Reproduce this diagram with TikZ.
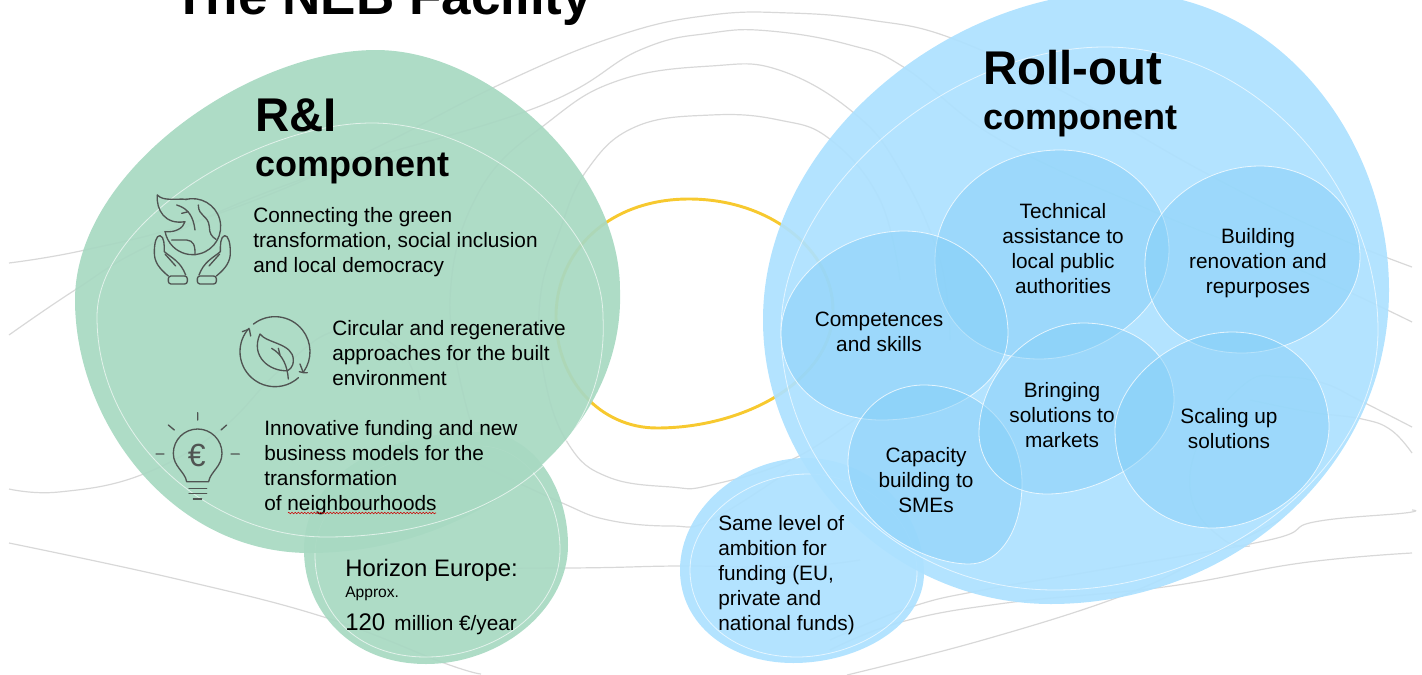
\documentclass[tikz,border=0pt]{standalone}
\usepackage{fontspec}
\setmainfont{Liberation Sans}
\usetikzlibrary{decorations.pathmorphing}
\definecolor{greenblob}{RGB}{168,217,194}
\definecolor{blueblob}{RGB}{173,225,255}
\definecolor{bubbleblue}{RGB}{131,206,247}
\definecolor{contourgrey}{RGB}{216,216,216}
\definecolor{ringyellow}{RGB}{247,201,47}
\definecolor{icongrey}{RGB}{80,84,82}
\begin{document}
\begin{tikzpicture}[
        x=0.75pt, y=-0.75pt,
        contour/.style={draw=contourgrey, line width=0.9pt},
        gblob/.style={fill=greenblob, fill opacity=0.93},
        bblob/.style={fill=blueblob, fill opacity=0.93},
        bubble/.style={fill=bubbleblue, fill opacity=0.48, draw=white, draw opacity=0.75, line width=0.6pt},
        rimline/.style={draw=white, draw opacity=0.65, line width=0.6pt},
        iconline/.style={draw=icongrey, line width=1pt, line cap=round, line join=round},
        body/.style={font=\fontsize{15.6}{18.75}\selectfont, inner sep=0pt, align=left, anchor=west},
        midtext/.style={font=\fontsize{15.6}{18.75}\selectfont, inner sep=0pt, align=center},
        bighead/.style={font=\fontsize{35.5}{40}\selectfont\bfseries, inner sep=0pt, anchor=base west},
        subhead/.style={font=\fontsize{27}{32}\selectfont\bfseries, inner sep=0pt, anchor=base west}
    ]
    \clip (0,0) rectangle (1422,675);
    \draw[contour] plot[smooth, tension=.7] coordinates {(9,263) (85,250) (200,220) (350,160) (503,83) (620,35) (711,15) (790,13) (870,20) (951,38) (1060,90) (1200,170) (1320,230) (1412,267)};
    \draw[contour] plot[smooth, tension=.7] coordinates {(9,335) (75,290) (150,245) (300,180) (535,108) (640,50) (711,33) (770,31) (850,45) (905,68) (1000,140) (1150,210) (1300,270) (1412,322)};
    \draw[contour] plot[smooth, tension=.7] coordinates {(470,420) (450,300) (480,190) (551,120) (620,80) (711,66) (779,70) (854,113) (900,170) (940,260) (950,340)};
    \draw[contour] plot[smooth, tension=.7] coordinates {(880,400) (797,457) (711,485) (671,487) (608,477) (569,445) (545,380) (540,300) (560,230) (587,170) (635,127) (711,115) (779,120) (831,140) (880,200) (900,280)};
    \draw[contour] plot[smooth, tension=.7] coordinates {(9,489) (59,492) (141,475) (220,430) (280,370) (340,330) (400,350) (420,400)};
    \draw[contour] plot[smooth, tension=.7] coordinates {(9,543) (181,580) (327,618) (444,663) (481,674)};
    \draw[contour] plot[smooth, tension=.7] coordinates {(470,460) (560,502) (608,520) (671,526) (711,520) (790,470)};
    \draw[contour] plot[smooth, tension=.7] coordinates {(345,568) (567,568) (680,566) (790,567) (860,560)};
    \draw[contour] plot[smooth, tension=.7] coordinates {(830,650) (901,622) (1006,603) (1164,587) (1301,563) (1412,553)};
    \draw[contour] plot[smooth, tension=.7] coordinates {(830,640) (911,607) (983,590) (1100,570) (1269,540) (1314,522) (1405,513) (1412,510)};
    \draw[contour] plot[smooth, tension=.7] coordinates {(847,675) (983,640) (1119,597) (1200,560) (1280,520)};
    \draw[contour] plot[smooth, tension=.7] coordinates {(1412,427) (1359,400) (1323,383) (1282,377) (1246,383) (1200,440) (1192,500) (1224,540) (1250,546)};
    \draw[contour] plot[smooth, tension=.7] coordinates {(1412,453) (1391,430) (1362,419) (1310,412) (1250,400)};
    \draw[draw=ringyellow, line width=2.2pt] (689,199) .. controls (770,199) and (833,250) .. (833,310) .. controls (833,380) and (745,428) .. (657,428) .. controls (600,428) and (556,380) .. (556,317) .. controls (556,250) and (610,199) .. (689,199) -- cycle;
    \fill[gblob] (480,432) .. controls (535,432) and (568,490) .. (568,545) .. controls (568,610) and (500,664) .. (426,664) .. controls (350,664) and (304,610) .. (304,550) .. controls (304,470) and (390,432) .. (480,432) -- cycle;
    \draw[rimline] (480,446) .. controls (525,446) and (560,495) .. (560,550) .. controls (560,610) and (495,657) .. (426,657) .. controls (355,657) and (315,610) .. (315,555) .. controls (315,490) and (395,446) .. (480,446) -- cycle;
    \fill[gblob] (376,50) .. controls (490,50) and (620,170) .. (620,290) .. controls (625,440) and (470,553) .. (310,553) .. controls (170,553) and (75,420) .. (75,300) .. controls (75,170) and (250,50) .. (376,50) -- cycle;
    \draw[rimline] (372,123) .. controls (480,123) and (603,220) .. (603,317) .. controls (610,460) and (480,537) .. (326,537) .. controls (210,537) and (97,440) .. (97,317) .. controls (97,220) and (260,123) .. (372,123) -- cycle;
    \fill[bblob] (806,458) .. controls (870,458) and (924,510) .. (924,573) .. controls (924,625) and (860,663) .. (793,663) .. controls (730,663) and (680,625) .. (680,570) .. controls (680,510) and (740,458) .. (806,458) -- cycle;
    \draw[rimline] (808,474) .. controls (865,474) and (917,520) .. (917,573) .. controls (917,620) and (855,657) .. (797,657) .. controls (735,657) and (690,620) .. (690,570) .. controls (690,520) and (745,474) .. (808,474) -- cycle;
    \fill[bblob] (1119,-8) .. controls (1280,-8) and (1389,140) .. (1389,290) .. controls (1389,470) and (1230,604) .. (1051,604) .. controls (890,604) and (763,470) .. (763,320) .. controls (763,140) and (950,-8) .. (1119,-8) -- cycle;
    \draw[rimline] (1105,47) .. controls (1260,47) and (1378,190) .. (1378,330) .. controls (1378,470) and (1220,590) .. (1055,590) .. controls (900,590) and (781,470) .. (781,330) .. controls (781,190) and (950,47) .. (1105,47) -- cycle;
    \fill[bubble,draw] (1060,150) .. controls (1120,150) and (1169,195) .. (1169,250) .. controls (1169,310) and (1100,359) .. (1040,359) .. controls (975,359) and (935,320) .. (935,260) .. controls (935,200) and (990,150) .. (1060,150) -- cycle;
    \fill[bubble,draw] (1260,166) .. controls (1315,166) and (1360,205) .. (1360,257) .. controls (1360,310) and (1300,353) .. (1242,353) .. controls (1185,353) and (1145,320) .. (1145,263) .. controls (1145,210) and (1200,166) .. (1260,166) -- cycle;
    \fill[bubble,draw] (904,231) .. controls (965,231) and (1008,280) .. (1008,333) .. controls (1008,385) and (950,420) .. (881,420) .. controls (825,420) and (781,385) .. (781,333) .. controls (781,280) and (840,231) .. (904,231) -- cycle;
    \fill[bubble,draw] (924,385) .. controls (980,385) and (1022,430) .. (1022,483) .. controls (1022,530) and (1000,564) .. (969,564) .. controls (925,564) and (848,525) .. (848,463) .. controls (848,420) and (880,385) .. (924,385) -- cycle;
    \fill[bubble,draw] (1083,323) .. controls (1135,323) and (1174,355) .. (1174,400) .. controls (1174,450) and (1105,494) .. (1047,494) .. controls (1005,494) and (979,465) .. (979,433) .. controls (979,375) and (1030,323) .. (1083,323) -- cycle;
    \fill[bubble,draw] (1232,332) .. controls (1290,332) and (1329,375) .. (1329,427) .. controls (1329,480) and (1270,528) .. (1212,528) .. controls (1160,528) and (1115,490) .. (1115,430) .. controls (1115,385) and (1170,332) .. (1232,332) -- cycle;

    \node[bighead, font=\fontsize{39.8}{44}\selectfont\bfseries] (facility) at (173,14) {The NEB Facility};
    \node[bighead] (rihead) at (255,131) {R\&I};
    \node[subhead] (risub) at (255,176) {component};
    \node[bighead] (rollhead) at (983,84) {Roll-out};
    \node[subhead] (rollsub) at (983,129) {component};
    \node[body] (connecting) at (253,242) {Connecting the green\\transformation, social inclusion\\and local democracy};
    \node[body] (circular) at (332,353) {Circular and regenerative\\approaches for the built\\environment};
    \node[body] (innovative) at (264,468) {Innovative funding and new\\business models for the\\transformation\\of neighbourhoods};
    \node[inner sep=0pt, anchor=base west, font=\fontsize{17.9}{21}\selectfont] (horizon) at (345,576) {Horizon Europe:};
    \node[inner sep=0pt, anchor=base west, font=\fontsize{11.7}{14}\selectfont] (approx) at (345,597) {Approx.};
    \node[inner sep=0pt, anchor=base west, font=\fontsize{15.6}{18}\selectfont] (million) at (345,630) {{\fontsize{18}{20}\selectfont 120}\hspace{2.5pt} million €/year};
    \node[body] (ambition) at (718,575) {Same level of\\ambition for\\funding (EU,\\private and\\national funds)};
    \node[midtext] (technical) at (1063,249) {Technical\\assistance to\\local public\\authorities};
    \node[midtext] (building) at (1258,263) {Building\\renovation and\\repurposes};
    \node[midtext] (competences) at (879,332) {Competences\\and skills};
    \node[midtext] (bringing) at (1062,415) {Bringing\\solutions to\\markets};
    \node[midtext] (scaling) at (1229,429) {Scaling up\\solutions};
    \node[midtext] (capacity) at (926,480) {Capacity\\building to\\SMEs};
    \draw[red!80!black, line width=0.4pt, decorate, decoration={zigzag, segment length=2.4pt, amplitude=0.6pt}] (288,513) -- (436,513);

    \begin{scope}[shift={(130,180)}, x=0.25pt, y=-0.25pt]
        \draw[iconline] (188,140) ++(255:84) arc[start angle=255, end angle=530, radius=84];
        \draw[iconline] (82,45) .. controls (100,65) and (140,55) .. (170,58);
        \draw[iconline] (82,45) .. controls (78,90) and (105,135) .. (165,125) .. controls (160,145) and (135,158) .. (105,155);
        \draw[iconline] (195,150) .. controls (190,110) and (175,85) .. (140,75) (175,95) -- (155,100);
        \draw[iconline] (205,75) .. controls (205,110) and (235,105) .. (238,140) .. controls (238,160) and (245,170) .. (258,178);
        \draw[iconline] (125,180) -- (170,180) .. controls (190,182) and (196,195) .. (195,225);
        \foreach \hs in {1,-1} {
            \draw[iconline, shift={(187,0)}, xscale=\hs] (-72,288) .. controls (-100,265) and (-115,245) .. (-114,215) .. controls (-114,190) and (-108,165) .. (-97,167) .. controls (-84,170) and (-84,195) .. (-84,215) .. controls (-60,235) and (-35,245) .. (-20,285);
            \draw[iconline, shift={(187,0)}, xscale=\hs] (-82,222) -- (-50,258);
            \draw[iconline, shift={(187,0)}, xscale=\hs, rounded corners=2pt] (-72,288) rectangle (-15,312);
        }
        \draw[iconline] (435,515) ++(232:105) arc[start angle=232, end angle=395, radius=105];
        \draw[iconline] (435,515) ++(48:105) arc[start angle=48, end angle=222, radius=105];
        \draw[iconline] (510,552) -- (520,578) -- (532,578) (520,578) -- (508,575);
        \draw[iconline] (337,455) -- (358,447) -- (362,468);
        \draw[iconline] (390,462) .. controls (410,490) and (490,490) .. (490,540) .. controls (490,565) and (475,570) .. (472,572) .. controls (420,575) and (360,530) .. (390,462);
        \draw[iconline] (475,597) .. controls (472,560) and (460,525) .. (425,505) (450,525) -- (445,505);
        \draw[iconline] (170,905) .. controls (165,875) and (130,860) .. (130,820) arc[start angle=180, end angle=360, radius=73] .. controls (276,860) and (241,875) .. (236,905) -- cycle;
        \draw[iconline] (177,925) -- (230,925) (177,940) -- (230,940) (190,957) -- (215,957);
        \draw[iconline] (203,698) -- (203,720) (115,735) -- (133,750) (290,735) -- (273,750) (78,822) -- (102,822) (303,822) -- (328,822);
        \node[inner sep=0pt, text=icongrey, font=\fontsize{24}{26}\selectfont] (euro) at (200,825) {€};
    \end{scope}
\end{tikzpicture}
\end{document}
